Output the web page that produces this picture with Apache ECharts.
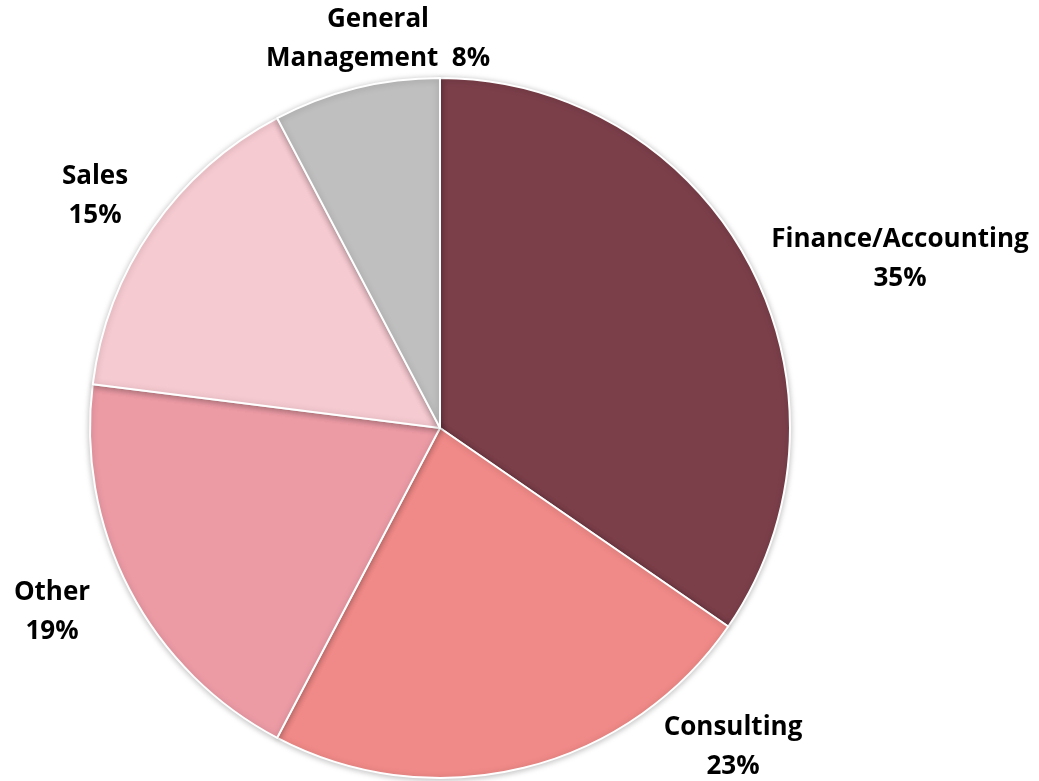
<!DOCTYPE html>
<html>
<head>
<meta charset="utf-8">
<script src="https://cdn.jsdelivr.net/npm/echarts@6/dist/echarts.min.js"></script>
<style>
  html, body { margin: 0; padding: 0; background: #fff; }
  #chart { width: 1039px; height: 781px; }
</style>
</head>
<body>
<div id="chart"></div>
<script>
const categories = ['Finance/Accounting', 'Consulting', 'Other', 'Sales', 'General Management']
const shares = [34.6, 23.1, 19.3, 15.3, 7.7]
const labelTexts = ['Finance/Accounting', 'Consulting', 'Other', 'Sales', 'General\nManagement ']

const colors = ['#7b3f4a', '#f08a88', '#ec9ba5', '#f6cad1', '#bfbfbf']
// label centres (px) for each slice
const labelPos = [[900, 259], [733, 747], [52, 612], [95, 196], [378, 39]]

const chart = echarts.init(document.getElementById('chart'))

chart.setOption({
  animation: false,
  series: [
    {
      type: 'pie',
      center: [440, 428],
      radius: 350,
      startAngle: 90,
      clockwise: true,
      data: categories.map((name, i) => ({
        name,
        value: shares[i],
        itemStyle: { color: colors[i] }
      })),
      itemStyle: {
        borderColor: '#fff',
        borderWidth: 2,
        shadowBlur: 6,
        shadowColor: 'rgba(0,0,0,0.25)',
        shadowOffsetY: 1
      },
      label: {
        show: true,
        position: 'outside',
        formatter: p => labelTexts[p.dataIndex] + (p.dataIndex === 4 ? ' ' : '\n') + Math.round(shares[p.dataIndex]) + '%',
        fontFamily: 'Open Sans',
        fontWeight: 'bold',
        fontSize: 26,
        lineHeight: 39,
        color: '#000',
        align: 'center',
        overflow: 'none',
        width: 400
      },
      labelLine: { show: false },
      labelLayout: params => ({
        x: labelPos[params.dataIndex][0],
        y: labelPos[params.dataIndex][1],
        align: 'center',
        verticalAlign: 'middle'
      })
    }
  ]
})
</script>
</body>
</html>
